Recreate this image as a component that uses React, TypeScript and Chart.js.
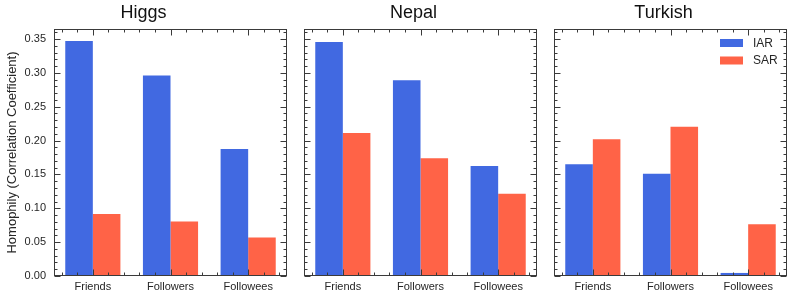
import React, { useEffect, useRef } from "react";
import { Chart, registerables } from "chart.js";

Chart.register(...registerables);

const CATEGORIES = ["Friends", "Followers", "Followees"];
const SERIES_LABELS = ["IAR", "SAR"];
const HIGGS_IAR = [0.347, 0.296, 0.1875];
const HIGGS_SAR = [0.0915, 0.0805, 0.057];
const NEPAL_IAR = [0.3455, 0.289, 0.1625];
const NEPAL_SAR = [0.211, 0.174, 0.1215];
const TURKISH_IAR = [0.165, 0.151, 0.0045];
const TURKISH_SAR = [0.202, 0.2205, 0.0765];
const Y_MAX = 0.3647;
const Y_MAJOR_STEP = 0.05;
const Y_MINOR_STEP = 0.01;
const X_MINOR_STEP = 0.2;
const Y_TITLE = "Homophily (Correlation Coefficient)";

const BLUE = "#4169E1";
const RED = "#FF6347";
const FONT = "'Liberation Sans', Arial, Helvetica, sans-serif";
const TEXT = "#262626";
const FRAME = "#3a3a3a";

const framePlugin = {
  id: "frame",
  afterDatasetsDraw(chart: any, _args: any, opts: any) {
    const { ctx, chartArea: a, scales } = chart;
    const xs = scales.x;
    const ys = scales.y;
    ctx.save();
    ctx.strokeStyle = FRAME;
    ctx.lineWidth = 1;
    const L = Math.round(a.left) + 0.5;
    const R = Math.round(a.right) - 0.5;
    const T = Math.round(a.top) + 0.5;
    const B = Math.round(a.bottom) - 0.5;
    ctx.strokeRect(L, T, R - L, B - T);
    ctx.beginPath();
    const nY = Math.floor(Y_MAX / Y_MINOR_STEP + 1e-6);
    for (let i = 0; i <= nY; i++) {
      const v = i * Y_MINOR_STEP;
      const major = Math.abs(v / Y_MAJOR_STEP - Math.round(v / Y_MAJOR_STEP)) < 1e-6;
      const len = major ? 6 : 3;
      const py = Math.round(ys.getPixelForValue(v)) + 0.5;
      ctx.moveTo(L, py);
      ctx.lineTo(L + len, py);
      ctx.moveTo(R, py);
      ctx.lineTo(R - len, py);
    }
    const n = CATEGORIES.length;
    for (let k = -0.4; k <= n - 0.6 + 1e-6; k += X_MINOR_STEP) {
      const major = Math.abs(k - Math.round(k)) < 1e-6;
      const len = major ? 6 : 3;
      const px = Math.round(xs.getPixelForValue(k)) + 0.5;
      ctx.moveTo(px, B);
      ctx.lineTo(px, B - len);
      ctx.moveTo(px, T);
      ctx.lineTo(px, T + len);
    }
    ctx.stroke();

    if (opts && opts.legend) {
      const ds = chart.data.datasets;
      ctx.font = `12px ${FONT}`;
      ctx.textBaseline = "middle";
      ctx.textAlign = "left";
      ds.forEach((d: any, i: number) => {
        const cy = a.top + 14 + i * 17.5;
        const bx = a.right - 67;
        ctx.fillStyle = d.backgroundColor;
        ctx.fillRect(bx, cy - 4, 23, 8);
        ctx.fillStyle = TEXT;
        ctx.fillText(d.label, bx + 33, cy + 0.5);
      });
    }
    ctx.restore();
  },
};

type PanelProps = {
  title: string;
  iar: number[];
  sar: number[];
  left: number;
  width: number;
  yAxisWidth: number;
  rightPad: number;
  showYLabels: boolean;
  showLegend: boolean;
};

function Panel(p: PanelProps) {
  const ref = useRef<HTMLCanvasElement | null>(null);
  useEffect(() => {
    if (!ref.current) return;
    const chart = new Chart(ref.current, {
      type: "bar",
      data: {
        labels: CATEGORIES,
        datasets: [
          { label: SERIES_LABELS[0], data: p.iar, backgroundColor: BLUE },
          { label: SERIES_LABELS[1], data: p.sar, backgroundColor: RED },
        ],
      },
      plugins: [framePlugin],
      options: {
        animation: false,
        responsive: false,
        devicePixelRatio: 1,
        layout: { padding: { left: 0, right: p.rightPad, top: 0, bottom: 0 } },
        datasets: {
          bar: { categoryPercentage: 0.71, barPercentage: 1 },
        },
        plugins: {
          legend: { display: false },
          tooltip: { enabled: false },
          title: {
            display: true,
            text: p.title,
            color: "#111",
            font: { family: FONT, size: 18, weight: "normal", lineHeight: 1.2 },
            padding: { top: 2.5, bottom: 4.9 },
          },
          frame: { legend: p.showLegend },
        } as any,
        scales: {
          x: {
            grid: { display: false, drawTicks: false },
            border: { display: false },
            ticks: {
              color: TEXT,
              font: { family: FONT, size: 11 },
              padding: 4,
              maxRotation: 0,
            },
            afterFit: (s: any) => {
              s.height = 23;
            },
          },
          y: {
            min: 0,
            max: Y_MAX,
            grid: { display: false, drawTicks: false },
            border: { display: false },
            ticks: {
              display: p.showYLabels,
              stepSize: Y_MAJOR_STEP,
              includeBounds: false,
              color: TEXT,
              font: { family: FONT, size: 11 },
              padding: 8,
              callback: (v: any) => Number(v).toFixed(2),
            },
            title: {
              display: p.showYLabels,
              text: Y_TITLE,
              color: TEXT,
              font: { family: FONT, size: 13, lineHeight: 1.2 },
              padding: { top: 4.2, bottom: 0 },
            },
            afterFit: (s: any) => {
              s.width = p.yAxisWidth;
            },
          },
        },
      } as any,
    });
    return () => chart.destroy();
  }, []);
  return (
    <canvas
      ref={ref}
      width={p.width}
      height={299}
      style={{ position: "absolute", left: p.left, top: 0, width: p.width, height: 299 }}
    />
  );
}

export default function App() {
  return (
    <div
      style={{
        position: "fixed",
        left: 0,
        top: 0,
        width: 793,
        height: 299,
        background: "#fff",
        overflow: "hidden",
      }}
    >
      <Panel title="Higgs" iar={HIGGS_IAR} sar={HIGGS_SAR} left={0} width={290} yAxisWidth={54} rightPad={3} showYLabels={true} showLegend={false} />
      <Panel title="Nepal" iar={NEPAL_IAR} sar={NEPAL_SAR} left={290} width={250} yAxisWidth={14} rightPad={3} showYLabels={false} showLegend={false} />
      <Panel title="Turkish" iar={TURKISH_IAR} sar={TURKISH_SAR} left={540} width={253} yAxisWidth={14} rightPad={6} showYLabels={false} showLegend={true} />
    </div>
  );
}
